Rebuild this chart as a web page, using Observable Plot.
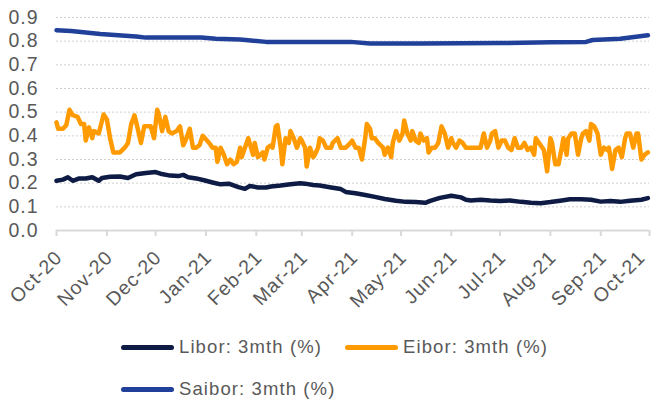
<!DOCTYPE html>
<html>
<head>
<meta charset="utf-8">
<script src="https://cdn.jsdelivr.net/npm/d3@7"></script>
<script src="https://cdn.jsdelivr.net/npm/@observablehq/plot@0.6"></script>
<style>
  html, body { margin: 0; padding: 0; background: #fff; }
  body { width: 652px; height: 401px; overflow: hidden; font-family: "Liberation Sans", Arial, sans-serif; }
  #chart svg text { letter-spacing: 1px; }
  #legend { position: relative; width: 652px; height: 81px; color: #595959; font-size: 18.5px; letter-spacing: 1.1px; }
  .item { position: absolute; display: flex; align-items: center; white-space: nowrap; }
  .sw { width: 53px; height: 5px; border-radius: 3px; margin-right: 5px; }
</style>
</head>
<body>
<div id="chart"></div>
<div id="legend"></div>
<script>
const seriesNames = ["Libor: 3mth (%)", "Eibor: 3mth (%)", "Saibor: 3mth (%)"];
const seriesColors = ["#0e1c45", "#ff9b00", "#21409a"];

const monthTicks = ["2020-10-01","2020-11-01","2020-12-01","2021-01-01","2021-02-01","2021-03-01","2021-04-01","2021-05-01","2021-06-01","2021-07-01","2021-08-01","2021-09-01","2021-10-01"];
const yTicks = [0, 0.1, 0.2, 0.3, 0.4, 0.5, 0.6, 0.7, 0.8, 0.9];

const eiborDates = ["2020-10-01","2020-10-02","2020-10-05","2020-10-07","2020-10-09","2020-10-11","2020-10-14","2020-10-16","2020-10-18","2020-10-19","2020-10-21","2020-10-23","2020-10-24","2020-10-27","2020-10-30","2020-11-01","2020-11-03","2020-11-05","2020-11-09","2020-11-12","2020-11-14","2020-11-16","2020-11-18","2020-11-20","2020-11-22","2020-11-24","2020-11-25","2020-11-28","2020-11-30","2020-12-02","2020-12-03","2020-12-05","2020-12-07","2020-12-09","2020-12-11","2020-12-14","2020-12-16","2020-12-18","2020-12-20","2020-12-22","2020-12-24","2020-12-26","2020-12-28","2020-12-30","2021-01-03","2021-01-05","2021-01-07","2021-01-08","2021-01-10","2021-01-12","2021-01-14","2021-01-16","2021-01-18","2021-01-20","2021-01-22","2021-01-23","2021-01-25","2021-01-27","2021-01-30","2021-01-31","2021-02-02","2021-02-05","2021-02-06","2021-02-08","2021-02-10","2021-02-11","2021-02-13","2021-02-14","2021-02-16","2021-02-17","2021-02-19","2021-02-21","2021-02-22","2021-02-24","2021-02-26","2021-02-28","2021-03-01","2021-03-03","2021-03-04","2021-03-06","2021-03-08","2021-03-09","2021-03-11","2021-03-12","2021-03-14","2021-03-16","2021-03-19","2021-03-20","2021-03-23","2021-03-25","2021-03-28","2021-03-31","2021-04-01","2021-04-03","2021-04-05","2021-04-07","2021-04-09","2021-04-10","2021-04-12","2021-04-13","2021-04-15","2021-04-17","2021-04-20","2021-04-21","2021-04-23","2021-04-25","2021-04-26","2021-04-28","2021-04-30","2021-05-02","2021-05-03","2021-05-05","2021-05-07","2021-05-08","2021-05-10","2021-05-12","2021-05-13","2021-05-15","2021-05-17","2021-05-18","2021-05-20","2021-05-22","2021-05-24","2021-05-26","2021-05-28","2021-05-30","2021-06-01","2021-06-02","2021-06-04","2021-06-06","2021-06-08","2021-06-10","2021-06-13","2021-06-16","2021-06-19","2021-06-21","2021-06-23","2021-06-25","2021-06-26","2021-06-28","2021-06-30","2021-07-02","2021-07-04","2021-07-06","2021-07-08","2021-07-10","2021-07-11","2021-07-12","2021-07-14","2021-07-16","2021-07-18","2021-07-20","2021-07-22","2021-07-23","2021-07-26","2021-07-28","2021-07-30","2021-08-01","2021-08-02","2021-08-04","2021-08-06","2021-08-08","2021-08-09","2021-08-11","2021-08-12","2021-08-14","2021-08-16","2021-08-18","2021-08-20","2021-08-21","2021-08-23","2021-08-25","2021-08-26","2021-08-28","2021-08-30","2021-09-01","2021-09-03","2021-09-05","2021-09-06","2021-09-08","2021-09-10","2021-09-12","2021-09-14","2021-09-16","2021-09-17","2021-09-19","2021-09-21","2021-09-23","2021-09-24","2021-09-26","2021-09-28","2021-09-30"];
const eiborValues = [0.457,0.43,0.43,0.445,0.51,0.487,0.48,0.45,0.45,0.38,0.436,0.39,0.42,0.41,0.49,0.47,0.39,0.33,0.33,0.35,0.37,0.45,0.487,0.43,0.37,0.44,0.44,0.44,0.39,0.51,0.49,0.42,0.48,0.42,0.41,0.42,0.44,0.36,0.39,0.43,0.35,0.35,0.36,0.40,0.37,0.35,0.35,0.29,0.35,0.32,0.28,0.30,0.28,0.29,0.35,0.31,0.35,0.39,0.32,0.37,0.31,0.33,0.30,0.35,0.36,0.35,0.44,0.445,0.35,0.28,0.39,0.37,0.42,0.39,0.35,0.39,0.38,0.35,0.27,0.35,0.31,0.32,0.35,0.39,0.38,0.35,0.35,0.37,0.39,0.35,0.35,0.37,0.38,0.35,0.35,0.30,0.39,0.45,0.43,0.39,0.39,0.37,0.35,0.32,0.35,0.31,0.37,0.42,0.38,0.41,0.465,0.41,0.38,0.42,0.38,0.37,0.41,0.38,0.39,0.33,0.35,0.35,0.37,0.44,0.41,0.35,0.39,0.37,0.35,0.38,0.37,0.35,0.35,0.35,0.35,0.41,0.35,0.38,0.41,0.42,0.35,0.38,0.38,0.35,0.34,0.39,0.37,0.35,0.35,0.37,0.34,0.35,0.32,0.39,0.36,0.34,0.25,0.39,0.37,0.28,0.28,0.35,0.39,0.32,0.39,0.41,0.41,0.32,0.39,0.41,0.42,0.38,0.45,0.44,0.41,0.32,0.35,0.34,0.35,0.26,0.34,0.35,0.31,0.39,0.41,0.41,0.35,0.41,0.41,0.30,0.32,0.33];

const liborDates = ["2020-10-01","2020-10-05","2020-10-08","2020-10-11","2020-10-15","2020-10-19","2020-10-23","2020-10-27","2020-10-29","2020-11-03","2020-11-09","2020-11-14","2020-11-19","2020-11-25","2020-12-01","2020-12-04","2020-12-10","2020-12-15","2020-12-18","2020-12-21","2020-12-26","2021-01-01","2021-01-05","2021-01-10","2021-01-15","2021-01-21","2021-01-25","2021-01-28","2021-02-02","2021-02-07","2021-02-10","2021-02-16","2021-02-22","2021-02-28","2021-03-03","2021-03-08","2021-03-12","2021-03-19","2021-03-25","2021-03-28","2021-04-03","2021-04-09","2021-04-15","2021-04-21","2021-04-28","2021-05-04","2021-05-10","2021-05-16","2021-05-19","2021-05-25","2021-06-01","2021-06-07","2021-06-10","2021-06-13","2021-06-19","2021-06-25","2021-07-01","2021-07-07","2021-07-14","2021-07-20","2021-07-26","2021-08-01","2021-08-07","2021-08-13","2021-08-20","2021-08-26","2021-09-01","2021-09-07","2021-09-13","2021-09-19","2021-09-26","2021-09-30"];
const liborValues = [0.21,0.215,0.225,0.21,0.22,0.22,0.225,0.21,0.222,0.227,0.228,0.222,0.238,0.243,0.247,0.24,0.232,0.23,0.235,0.225,0.22,0.21,0.203,0.195,0.198,0.183,0.176,0.188,0.182,0.182,0.186,0.19,0.195,0.2,0.198,0.192,0.19,0.182,0.175,0.163,0.157,0.15,0.142,0.133,0.126,0.121,0.12,0.117,0.125,0.138,0.147,0.14,0.13,0.127,0.13,0.127,0.125,0.127,0.121,0.117,0.115,0.12,0.126,0.132,0.132,0.13,0.122,0.125,0.121,0.126,0.13,0.137];

const saiborDates = ["2020-10-01","2020-10-10","2020-10-28","2020-11-19","2020-11-25","2020-12-16","2020-12-29","2021-01-07","2021-01-22","2021-02-07","2021-02-28","2021-03-31","2021-04-12","2021-05-13","2021-07-01","2021-08-01","2021-08-23","2021-08-27","2021-09-13","2021-09-30"];
const saiborValues = [0.846,0.843,0.83,0.82,0.815,0.815,0.815,0.81,0.807,0.797,0.797,0.797,0.79,0.79,0.792,0.795,0.797,0.805,0.81,0.825];

const parse = d3.utcParse("%Y-%m-%d");
const rows = [];
liborDates.forEach((d, i) => rows.push({series: seriesNames[0], date: parse(d), value: liborValues[i]}));
eiborDates.forEach((d, i) => rows.push({series: seriesNames[1], date: parse(d), value: eiborValues[i]}));
saiborDates.forEach((d, i) => rows.push({series: seriesNames[2], date: parse(d), value: saiborValues[i]}));

const ticks = monthTicks.map(parse);
const fmt = d3.utcFormat("%b-%y");
const labelFont = "'Liberation Sans', Arial, sans-serif";

const chart = Plot.plot({
  width: 652,
  height: 320,
  marginLeft: 56,
  marginRight: 3,
  marginTop: 17,
  marginBottom: 90,
  style: {fontFamily: labelFont, color: "#595959", background: "#fff"},
  x: {type: "utc", domain: [ticks[0], ticks[ticks.length - 1]], axis: null},
  y: {domain: [0, 0.9], axis: null},
  color: {domain: seriesNames, range: seriesColors},
  marks: [
    Plot.ruleY(yTicks.slice(1), {stroke: "#d0d0d0", strokeDasharray: "2,2", strokeWidth: 1}),
    Plot.ruleY([0], {stroke: "#d9d9d9", strokeWidth: 2}),
    Plot.axisX({ticks: ticks, tickSize: 6, tickFormat: () => "", stroke: "#d9d9d9", strokeWidth: 2, label: null}),
    Plot.text(yTicks, {y: d => d, frameAnchor: "left", text: d3.format(".1f"), textAnchor: "end", dx: -18, fontSize: 19.5, fill: "#595959"}),
    Plot.text(ticks.slice(0, -1), {x: d => d, frameAnchor: "bottom", text: fmt, rotate: -45, textAnchor: "end", dx: 7, dy: 28, fontSize: 19.5, fill: "#595959"}),
    Plot.text(ticks.slice(-1), {x: d => d, frameAnchor: "bottom", text: fmt, rotate: -45, textAnchor: "end", dx: -3, dy: 28, fontSize: 19.5, fill: "#595959"}),
    Plot.line(rows, {x: "date", y: "value", z: "series", stroke: "series", strokeWidth: 4.5, strokeLinejoin: "round", strokeLinecap: "round"})
  ]
});
document.getElementById("chart").appendChild(chart);

const legendPos = [[121, 17], [345, 17], [121, 59]];
const legend = document.getElementById("legend");
seriesNames.forEach((name, i) => {
  const item = document.createElement("div");
  item.className = "item";
  item.style.left = legendPos[i][0] + "px";
  item.style.top = (legendPos[i][1] - 1) + "px";
  const sw = document.createElement("span");
  sw.className = "sw";
  sw.style.background = seriesColors[i];
  const tx = document.createElement("span");
  tx.textContent = name;
  item.appendChild(sw);
  item.appendChild(tx);
  legend.appendChild(item);
});
</script>
</body>
</html>
